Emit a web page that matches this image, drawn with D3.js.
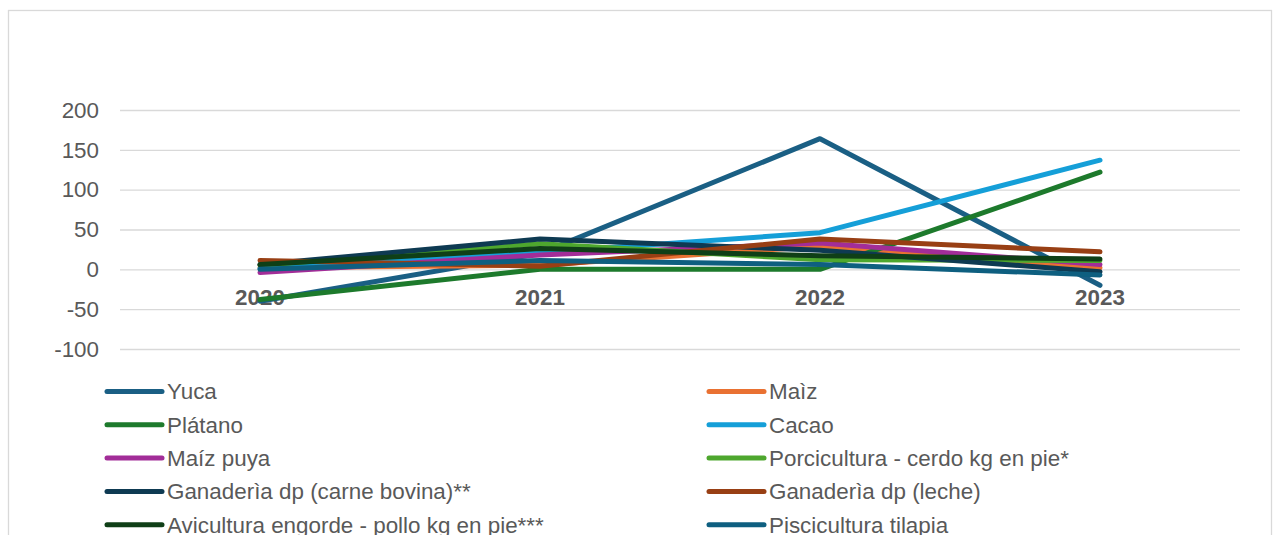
<!DOCTYPE html>
<html>
<head>
<meta charset="utf-8">
<script src="https://cdn.jsdelivr.net/npm/d3@7/dist/d3.min.js"></script>
<style>
  html, body { margin: 0; padding: 0; background: #ffffff; }
  svg { display: block; font-family: "Liberation Sans", Arial, sans-serif; }
</style>
</head>
<body>
<svg id="chart" width="1280" height="535"></svg>
<script>
// Years on the category axis
const years = ["2020", "2021", "2022", "2023"];

// Value axis ticks
const yTicks = [-100, -50, 0, 50, 100, 150, 200];

// Yearly variation per product line
const yuca          = [-40, 20, 164, -20];
const maiz          = [2, 5, 29, 2];
const platano       = [-38, 0, 0, 122];
const cacao         = [1, 21, 46, 137];
const maizPuya      = [-4, 18, 33, 6];
const porcicultura  = [5, 32, 12, 11];
const carneBovina   = [6, 38, 24, -3];
const leche         = [11, 4, 38, 22];
const avicultura    = [6, 26, 17, 13];
const piscicultura  = [0, 11, 6, -7];

const seriesNames = [
  "Yuca", "Maìz", "Plátano", "Cacao", "Maíz puya",
  "Porcicultura - cerdo kg en pie*", "Ganaderìa dp (carne bovina)**",
  "Ganaderìa dp (leche)", "Avicultura engorde - pollo kg en pie***",
  "Piscicultura tilapia"
];
const seriesValues = [
  yuca, maiz, platano, cacao, maizPuya,
  porcicultura, carneBovina, leche, avicultura, piscicultura
];
const seriesColors = [
  "#1a5f84", "#e97132", "#1d7a2c", "#159fd8", "#a22d98",
  "#4ea72e", "#0e3a52", "#983f14", "#0f3f17", "#0e5f80"
];

const series = seriesNames.map((name, i) => ({
  name,
  color: seriesColors[i],
  values: years.map((yr, j) => ({ year: yr, value: seriesValues[i][j] }))
}));

const svg = d3.select("#chart");
const textColor = "#595959";
const gridColor = "#d9d9d9";
const fontSize = 22.4;

// Outer chart frame
svg.append("rect")
  .attr("x", 8.5).attr("y", 10.5)
  .attr("width", 1263).attr("height", 540)
  .attr("fill", "#ffffff")
  .attr("stroke", gridColor)
  .attr("stroke-width", 1.3);

const plot = { left: 120, right: 1240, top: 110, bottom: 349 };

const x = d3.scaleBand()
  .domain(years)
  .range([plot.left, plot.right]);

const y = d3.scaleLinear()
  .domain([-100, 200])
  .range([plot.bottom, plot.top]);

const cx = d => x(d) + x.bandwidth() / 2;

// Horizontal gridlines and value labels (plain hyphen for negatives)
const yAxis = svg.append("g")
  .attr("transform", `translate(${plot.left},0)`)
  .call(d3.axisLeft(y)
    .tickValues(yTicks)
    .tickSize(-(plot.right - plot.left))
    .tickPadding(21)
    .tickFormat(d => String(d)));
yAxis.select(".domain").remove();
yAxis.selectAll(".tick line")
  .attr("stroke", gridColor)
  .attr("stroke-width", 1.3);
yAxis.selectAll(".tick text")
  .attr("fill", textColor)
  .attr("font-size", fontSize)
  .attr("font-family", "Liberation Sans, Arial, sans-serif");

// Category labels sitting just under the zero line
const xAxis = svg.append("g")
  .attr("transform", `translate(0,${y(0)})`)
  .call(d3.axisBottom(x).tickSize(0).tickPadding(20));
xAxis.select(".domain").remove();
xAxis.selectAll(".tick text")
  .attr("fill", textColor)
  .attr("font-size", fontSize)
  .attr("font-weight", "bold")
  .attr("font-family", "Liberation Sans, Arial, sans-serif");

// Series lines
const line = d3.line()
  .x(d => cx(d.year))
  .y(d => y(d.value));

svg.append("g")
  .selectAll("path")
  .data(series)
  .join("path")
  .attr("d", d => line(d.values))
  .attr("fill", "none")
  .attr("stroke", d => d.color)
  .attr("stroke-width", 5)
  .attr("stroke-linecap", "round")
  .attr("stroke-linejoin", "round");

// Legend in two columns
const legendCols = [107, 709];
const legendTop = 391.5;
const rowGap = 33.3;

const legend = svg.append("g")
  .selectAll("g")
  .data(series)
  .join("g")
  .attr("transform", (d, i) =>
    `translate(${legendCols[i % 2]},${legendTop + Math.floor(i / 2) * rowGap})`);

legend.append("line")
  .attr("x1", 0).attr("x2", 55)
  .attr("y1", 0).attr("y2", 0)
  .attr("stroke", d => d.color)
  .attr("stroke-width", 5)
  .attr("stroke-linecap", "round");

legend.append("text")
  .attr("x", 60)
  .attr("y", 0)
  .attr("dy", "0.35em")
  .attr("fill", textColor)
  .attr("font-size", fontSize)
  .text(d => d.name);
</script>
</body>
</html>
